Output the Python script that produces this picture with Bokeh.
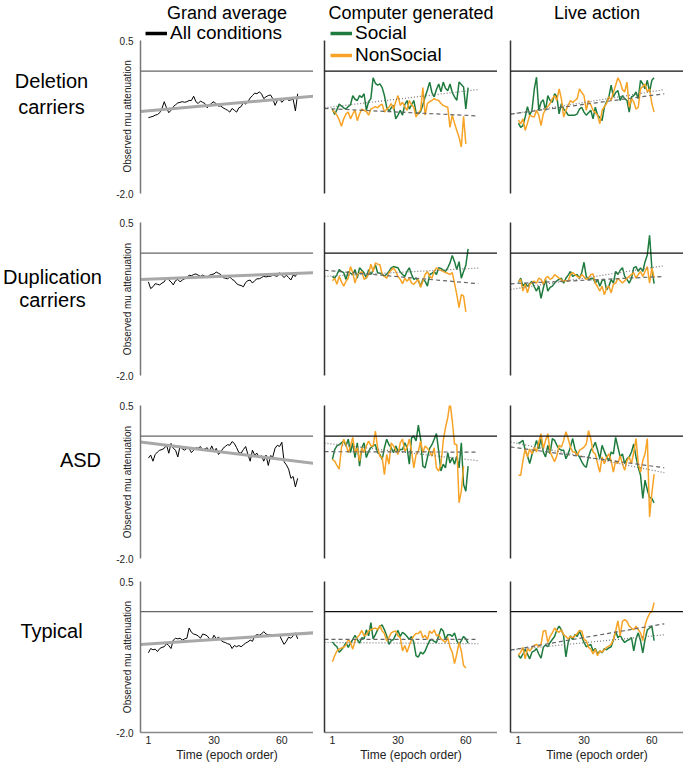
import numpy as np
from bokeh.plotting import figure
from bokeh.layouts import column, row
from bokeh.models import Range1d, Span, Label, Legend, LegendItem, FixedTicker, PrintfTickFormatter
from bokeh.core.properties import value
from bokeh.embed import file_html
from bokeh.resources import INLINE

# ---------------- data ----------------
COLUMN_TITLES = ["Grand average", "Computer generated", "Live action"]
ROW_LABELS = [["Deletion", "carriers"], ["Duplication", "carriers"], ["ASD"], ["Typical"]]
Y_LABEL = "Observed mu attenuation"
X_LABEL = "Time (epoch order)"
Y_TICKS = [-2.0, 0.5]
X_TICKS = [1, 30, 60]
X_LIM = (-2.5, 74.0)
Y_LIM = (-2.0, 0.5)
FIT_END = 65.5

GRAND_DEL = [-0.76, -0.75, -0.74, -0.72, -0.71, -0.68, -0.61, -0.50, -0.60, -0.68,
             -0.64, -0.58, -0.55, -0.52, -0.51, -0.50, -0.51, -0.50, -0.48, -0.48,
             -0.41, -0.50, -0.53, -0.49, -0.51, -0.53, -0.60, -0.56, -0.52, -0.50,
             -0.54, -0.57, -0.57, -0.60, -0.62, -0.64, -0.67, -0.61, -0.64, -0.67,
             -0.60, -0.58, -0.51, -0.54, -0.50, -0.44, -0.40, -0.36, -0.37, -0.34,
             -0.37, -0.45, -0.42, -0.40, -0.39, -0.45, -0.56, -0.48, -0.45, -0.51,
             -0.47, -0.44, -0.48, -0.47, -0.46, -0.65, -0.37]
GRAND_DUP = [-0.47, -0.58, -0.55, -0.50, -0.51, -0.52, -0.49, -0.47, -0.40, -0.44,
             -0.47, -0.52, -0.45, -0.43, -0.47, -0.44, -0.42, -0.40, -0.36, -0.37,
             -0.35, -0.34, -0.36, -0.38, -0.36, -0.38, -0.40, -0.36, -0.35, -0.34,
             -0.31, -0.33, -0.35, -0.40, -0.41, -0.42, -0.39, -0.43, -0.45, -0.50,
             -0.52, -0.53, -0.55, -0.48, -0.45, -0.44, -0.49, -0.45, -0.42, -0.42,
             -0.40, -0.38, -0.39, -0.38, -0.38, -0.36, -0.37, -0.38, -0.32, -0.36,
             -0.40, -0.36, -0.40, -0.44, -0.36, -0.38, -0.31]
GRAND_ASD = [-0.36, -0.31, -0.41, -0.30, -0.26, -0.23, -0.22, -0.20, -0.14, -0.28,
             -0.12, -0.20, -0.23, -0.34, -0.16, -0.21, -0.23, -0.20, -0.20, -0.27,
             -0.23, -0.19, -0.20, -0.17, -0.23, -0.21, -0.19, -0.25, -0.16, -0.25,
             -0.20, -0.30, -0.26, -0.20, -0.17, -0.14, -0.15, -0.09, -0.12, -0.19,
             -0.27, -0.28, -0.22, -0.17, -0.30, -0.41, -0.23, -0.31, -0.28, -0.35,
             -0.32, -0.41, -0.31, -0.48, -0.32, -0.34, -0.20, -0.15, -0.17, -0.10,
             -0.42, -0.47, -0.54, -0.69, -0.66, -0.83, -0.69]
GRAND_TYP = [-0.68, -0.61, -0.63, -0.62, -0.66, -0.61, -0.59, -0.58, -0.53, -0.56,
             -0.61, -0.47, -0.44, -0.45, -0.44, -0.47, -0.45, -0.44, -0.27, -0.34,
             -0.37, -0.38, -0.40, -0.44, -0.37, -0.38, -0.40, -0.45, -0.47, -0.39,
             -0.45, -0.42, -0.47, -0.50, -0.51, -0.53, -0.54, -0.61, -0.56, -0.58,
             -0.56, -0.58, -0.55, -0.52, -0.50, -0.47, -0.49, -0.40, -0.38, -0.39,
             -0.37, -0.33, -0.37, -0.38, -0.38, -0.39, -0.39, -0.39, -0.39, -0.47,
             -0.54, -0.49, -0.42, -0.44, -0.40, -0.35, -0.45]

CG_SOC_DEL = [-0.62, -0.71, -0.63, -0.54, -0.57, -0.60, -0.62, -0.58, -0.55, -0.40,
              -0.46, -0.48, -0.40, -0.43, -0.37, -0.64, -0.50, -0.45, -0.11, -0.20,
              -0.23, -0.21, -0.27, -0.40, -0.59, -0.66, -0.60, -0.56, -0.78, -0.72,
              -0.64, -0.72, -0.55, -0.48, -0.62, -0.55, -0.48, -0.68, -0.70, -0.66,
              -0.55, -0.42, -0.31, -0.18, -0.35, -0.42, -0.30, -0.21, -0.34, -0.18,
              -0.28, -0.32, -0.21, -0.35, -0.42, -0.48, -0.18, -0.22, -0.26, -0.62, -0.27]
CG_NON_DEL = [-0.64, -0.67, -0.72, -0.80, -0.90, -0.78, -0.70, -0.67, -0.78, -0.70,
              -0.64, -0.81, -0.70, -0.62, -0.64, -0.66, -0.72, -0.62, -0.60, -0.58,
              -0.60, -0.56, -0.54, -0.67, -0.62, -0.59, -0.53, -0.62, -0.50, -0.40,
              -0.56, -0.51, -0.58, -0.64, -0.48, -0.55, -0.59, -0.75, -0.68, -0.64,
              -0.27, -0.72, -0.53, -0.50, -0.48, -0.45, -0.47, -0.48, -0.53, -0.56,
              -0.58, -0.59, -0.92, -0.72, -0.85, -0.97, -1.08, -1.24, -0.74, -1.19]
CG_SOC_DUP = [-0.38, -0.41, -0.35, -0.27, -0.30, -0.32, -0.43, -0.30, -0.33, -0.35,
              -0.27, -0.41, -0.24, -0.28, -0.32, -0.41, -0.27, -0.35, -0.28, -0.19,
              -0.32, -0.33, -0.34, -0.38, -0.34, -0.30, -0.24, -0.22, -0.23, -0.24,
              -0.31, -0.35, -0.38, -0.30, -0.24, -0.35, -0.43, -0.41, -0.45, -0.54,
              -0.43, -0.46, -0.54, -0.35, -0.33, -0.30, -0.35, -0.24, -0.25, -0.28,
              -0.30, -0.24, -0.16, -0.04, -0.14, -0.27, -0.14, -0.41, -0.30, -0.20, 0.07]
CG_NON_DUP = [-0.45, -0.41, -0.51, -0.38, -0.47, -0.54, -0.46, -0.41, -0.22, -0.32,
              -0.49, -0.35, -0.33, -0.30, -0.43, -0.40, -0.35, -0.18, -0.30, -0.16,
              -0.18, -0.19, -0.35, -0.38, -0.41, -0.32, -0.28, -0.24, -0.30, -0.38,
              -0.43, -0.50, -0.41, -0.46, -0.41, -0.49, -0.51, -0.47, -0.43, -0.56,
              -0.46, -0.35, -0.30, -0.38, -0.41, -0.30, -0.24, -0.27, -0.28, -0.30,
              -0.32, -0.33, -0.35, -0.32, -0.49, -0.68, -0.89, -0.68, -0.70, -0.96]
CG_SOC_ASD = [-0.38, -0.22, -0.16, -0.14, -0.11, -0.08, -0.16, -0.05, -0.27, -0.11,
              -0.35, -0.11, -0.49, -0.19, -0.11, -0.35, -0.25, -0.19, -0.16, -0.14,
              -0.27, -0.30, -0.38, -0.19, -0.05, -0.14, -0.19, -0.27, -0.16, -0.25,
              -0.22, -0.22, -0.11, -0.19, -0.46, -0.03, 0.00, -0.08, 0.18, -0.05,
              -0.49, -0.52, -0.35, -0.20, -0.14, -0.05, 0.04, -0.25, -0.57, -0.46,
              -0.52, -0.27, -0.44, -0.35, -0.46, -0.33, -0.52, -0.11, -0.79, -0.90, -0.49]
CG_NON_ASD = [-0.38, -0.41, -0.48, -0.54, -0.19, -0.05, -0.14, -0.27, -0.16, -0.02,
              -0.27, -0.19, -0.41, -0.19, -0.27, -0.16, -0.08, -0.16, -0.16, 0.08,
              -0.19, -0.33, -0.35, -0.63, -0.30, -0.46, -0.11, -0.16, -0.22, -0.30,
              -0.11, -0.05, -0.25, -0.19, -0.05, -0.25, -0.52, -0.30, -0.25, -0.08,
              -0.27, -0.16, -0.20, -0.25, -0.33, -0.19, -0.52, -0.57, -0.46, -0.08,
              0.14, 0.30, 0.56, 0.25, -0.13, -0.14, -1.09, -0.90, -0.49]
CG_SOC_TYP = [-0.50, -0.55, -0.58, -0.67, -0.63, -0.58, -0.51, -0.59, -0.52, -0.46,
              -0.39, -0.46, -0.52, -0.43, -0.45, -0.30, -0.40, -0.18, -0.45, -0.38,
              -0.30, -0.24, -0.22, -0.30, -0.40, -0.54, -0.48, -0.46, -0.38, -0.31,
              -0.41, -0.34, -0.37, -0.41, -0.46, -0.41, -0.51, -0.73, -0.75, -0.67,
              -0.70, -0.65, -0.56, -0.48, -0.46, -0.49, -0.51, -0.40, -0.28, -0.32,
              -0.46, -0.38, -0.38, -0.41, -0.35, -0.48, -0.54, -0.48, -0.41, -0.45, -0.52]
CG_NON_TYP = [-0.83, -0.73, -0.65, -0.62, -0.60, -0.59, -0.55, -0.46, -0.51, -0.62,
              -0.48, -0.43, -0.38, -0.31, -0.40, -0.38, -0.32, -0.30, -0.28, -0.27,
              -0.30, -0.23, -0.32, -0.36, -0.48, -0.43, -0.35, -0.33, -0.32, -0.40,
              -0.43, -0.65, -0.56, -0.67, -0.56, -0.46, -0.40, -0.36, -0.36, -0.32,
              -0.43, -0.39, -0.46, -0.32, -0.36, -0.30, -0.40, -0.38, -0.45, -0.48,
              -0.51, -0.43, -0.59, -0.67, -0.86, -0.70, -0.51, -0.65, -0.89, -0.93]

LA_SOC_DEL = [-0.85, -0.92, -0.89, -0.75, -0.58, -0.72, -0.64, -0.30, -0.10, -0.64,
              -0.51, -0.47, -0.64, -0.40, -0.48, -0.51, -0.37, -0.42, -0.70, -0.53,
              -0.62, -0.66, -0.72, -0.72, -0.72, -0.72, -0.70, -0.62, -0.59, -0.67,
              -0.72, -0.68, -0.64, -0.78, -0.59, -0.72, -0.76, -0.81, -0.59, -0.50,
              -0.42, -0.23, -0.42, -0.35, -0.32, -0.48, -0.40, -0.45, -0.48, -0.67,
              -0.42, -0.40, -0.34, -0.45, -0.15, -0.21, -0.29, -0.15, -0.34, -0.15, -0.11]
LA_NON_DEL = [-0.80, -0.86, -0.78, -0.97, -0.85, -0.72, -0.74, -0.75, -0.64, -0.72,
              -0.89, -0.70, -0.62, -0.58, -0.53, -0.45, -0.40, -0.48, -0.29, -0.45,
              -0.75, -0.64, -0.56, -0.48, -0.51, -0.48, -0.45, -0.29, -0.35, -0.40,
              -0.64, -0.48, -0.55, -0.64, -0.68, -0.72, -0.86, -0.64, -0.58, -0.53,
              -0.42, -0.48, -0.35, -0.23, -0.11, -0.18, -0.30, -0.34, -0.18, -0.59,
              -0.45, -0.50, -0.62, -0.59, -0.29, -0.25, -0.21, -0.34, -0.29, -0.53, -0.67]
LA_SOC_DUP = [-0.48, -0.41, -0.54, -0.49, -0.54, -0.50, -0.46, -0.55, -0.62, -0.54,
              -0.74, -0.57, -0.43, -0.62, -0.56, -0.54, -0.49, -0.45, -0.43, -0.41,
              -0.49, -0.41, -0.36, -0.30, -0.38, -0.36, -0.35, -0.41, -0.32, -0.15,
              -0.38, -0.43, -0.42, -0.41, -0.49, -0.43, -0.54, -0.45, -0.43, -0.60,
              -0.54, -0.43, -0.49, -0.30, -0.35, -0.28, -0.24, -0.38, -0.43, -0.49,
              -0.41, -0.24, -0.22, -0.30, -0.24, -0.30, -0.14, -0.03, 0.29, -0.24, -0.50]
LA_NON_DUP = [-0.47, -0.43, -0.62, -0.51, -0.65, -0.51, -0.48, -0.46, -0.49, -0.41,
              -0.43, -0.51, -0.41, -0.38, -0.43, -0.41, -0.35, -0.38, -0.41, -0.44,
              -0.46, -0.45, -0.46, -0.35, -0.32, -0.35, -0.38, -0.41, -0.35, -0.39,
              -0.43, -0.41, -0.35, -0.34, -0.49, -0.55, -0.62, -0.54, -0.68, -0.57,
              -0.54, -0.65, -0.51, -0.49, -0.41, -0.45, -0.49, -0.45, -0.41, -0.38,
              -0.35, -0.32, -0.41, -0.35, -0.30, -0.38, -0.30, -0.22, -0.49, -0.24, -0.41]
LA_SOC_ASD = [-0.12, -0.10, -0.07, -0.23, -0.32, -0.45, -0.30, -0.20, -0.07, -0.21,
              -0.04, -0.26, -0.34, -0.15, -0.29, -0.04, -0.07, -0.15, -0.21, -0.23,
              -0.23, -0.37, -0.29, -0.18, -0.04, -0.21, -0.29, -0.34, -0.42, -0.48,
              -0.51, -0.34, -0.23, -0.18, -0.10, -0.23, -0.37, -0.15, -0.25, -0.34,
              -0.40, -0.26, -0.29, -0.02, -0.18, -0.34, -0.29, -0.45, -0.37, -0.34,
              -0.26, -0.13, -0.34, -0.51, -0.64, -1.02, -0.72, -0.88, -1.00, -1.02, -1.09]
LA_NON_ASD = [-0.64, -0.64, -0.40, -0.21, -0.34, -0.21, -0.29, -0.18, -0.26, -0.10,
              0.04, -0.21, -0.07, 0.04, -0.26, -0.34, -0.42, -0.32, -0.15, -0.18,
              -0.07, 0.07, -0.04, -0.18, -0.26, -0.26, -0.32, -0.23, -0.21, -0.18,
              -0.13, 0.09, -0.04, -0.26, -0.29, -0.45, -0.59, -0.34, -0.45, -0.35,
              -0.29, -0.40, -0.59, -0.40, -0.45, -0.32, -0.45, -0.56, -0.40, -0.34,
              -0.45, -0.26, -0.04, -0.45, -0.59, -0.40, -0.29, -0.04, -1.32, -0.94, -0.62]
LA_SOC_TYP = [-0.72, -0.77, -0.70, -0.62, -0.70, -0.78, -0.67, -0.65, -0.61, -0.70,
              -0.77, -0.59, -0.55, -0.58, -0.51, -0.46, -0.41, -0.30, -0.24, -0.30,
              -0.40, -0.75, -0.51, -0.40, -0.46, -0.38, -0.41, -0.32, -0.41, -0.51,
              -0.58, -0.56, -0.54, -0.65, -0.61, -0.70, -0.65, -0.68, -0.61, -0.63,
              -0.60, -0.58, -0.47, -0.32, -0.43, -0.39, -0.46, -0.51, -0.48, -0.46,
              -0.43, -0.65, -0.45, -0.35, -0.48, -0.68, -0.46, -0.30, -0.27, -0.24, -0.48]
LA_NON_TYP = [-0.72, -0.67, -0.59, -0.78, -0.61, -0.65, -0.60, -0.56, -0.54, -0.58,
              -0.54, -0.32, -0.31, -0.51, -0.41, -0.35, -0.27, -0.32, -0.34, -0.30,
              -0.38, -0.41, -0.45, -0.41, -0.43, -0.40, -0.36, -0.31, -0.32, -0.46,
              -0.48, -0.59, -0.62, -0.70, -0.62, -0.73, -0.65, -0.67, -0.63, -0.59,
              -0.57, -0.54, -0.46, -0.32, -0.15, -0.40, -0.16, -0.13, -0.16, -0.24,
              -0.27, -0.30, -0.24, -0.30, -0.35, -0.48, -0.22, -0.11, -0.03, 0.00, 0.15]

# linear fits per group (rows: Deletion, Duplication, ASD, Typical): value = intercept + slope * epoch
GRAND_FIT_INTERCEPT = [-0.653, -0.427, -0.108, -0.535]
GRAND_FIT_SLOPE = [0.0033, 0.00145, -0.00457, 0.0025]
CG_SOC_FIT_INTERCEPT = [-0.589, -0.375, -0.125, -0.510]
CG_SOC_FIT_SLOPE = [0.0044, 0.00198, -0.00424, -0.0003]
CG_NON_FIT_INTERCEPT = [-0.615, -0.288, -0.255, -0.457]
CG_NON_FIT_SLOPE = [-0.0018, -0.00323, -0.0001, 0.0]
LA_SOC_FIT_INTERCEPT = [-0.689, -0.580, -0.115, -0.625]
LA_SOC_FIT_SLOPE = [0.0059, 0.0057, -0.00735, 0.0037]
LA_NON_FIT_INTERCEPT = [-0.691, -0.497, -0.190, -0.620]
LA_NON_FIT_SLOPE = [0.0049, 0.00176, -0.0050, 0.0064]

GRAND = [GRAND_DEL, GRAND_DUP, GRAND_ASD, GRAND_TYP]
SOCIAL = [[CG_SOC_DEL, CG_SOC_DUP, CG_SOC_ASD, CG_SOC_TYP],
          [LA_SOC_DEL, LA_SOC_DUP, LA_SOC_ASD, LA_SOC_TYP]]
NONSOCIAL = [[CG_NON_DEL, CG_NON_DUP, CG_NON_ASD, CG_NON_TYP],
             [LA_NON_DEL, LA_NON_DUP, LA_NON_ASD, LA_NON_TYP]]
SOC_FIT = [(CG_SOC_FIT_INTERCEPT, CG_SOC_FIT_SLOPE), (LA_SOC_FIT_INTERCEPT, LA_SOC_FIT_SLOPE)]
NON_FIT = [(CG_NON_FIT_INTERCEPT, CG_NON_FIT_SLOPE), (LA_NON_FIT_INTERCEPT, LA_NON_FIT_SLOPE)]

# ---------------- style / layout ----------------
FONT = "Liberation Sans"
GREEN = "#1e7b3e"
ORANGE = "#f7a325"
LABEL_COL_W = 114
FRAME_W = 173
FRAME_H = 153
LEFT_BORDER = [26, 11, 13]
HEADER_H = 40                      # space above first row of panels (titles, legends)
TOP_BORDER = [0, 22, 23, 16]
BOTTOM_BORDER = [7, 7, 7, 30]
PX_Y = FRAME_H / (Y_LIM[1] - Y_LIM[0])
Y_TOP_ROW0 = Y_LIM[1] + HEADER_H / PX_Y
# the first-row frame also holds the header strip; pad the rotated axis label so that it
# stays centred on the data part of the axis (non-breaking spaces keep their width)
Y_LABEL_ROW0 = Y_LABEL + "\u00a0" * 14

# row label text centres, in pixels within each row's label strip
ROW_LABEL_X = [51, 52, 80, 51]
ROW_LABEL_Y = [[83, 110], [65, 92], [65], [65]]


def row_height(r):
    h = TOP_BORDER[r] + FRAME_H + BOTTOM_BORDER[r]
    return h + (HEADER_H if r == 0 else 0)


def make_label_strip(r):
    h = row_height(r)
    p = figure(width=LABEL_COL_W, height=h, x_range=Range1d(0, LABEL_COL_W), y_range=Range1d(h, 0),
               x_axis_location=None, y_axis_location=None, toolbar_location=None, tools="",
               output_backend="svg", min_border=0)
    p.outline_line_color = None
    p.grid.visible = False
    lines = ROW_LABELS[r]
    p.text(x=[ROW_LABEL_X[r]] * len(lines), y=ROW_LABEL_Y[r], text=lines,
           text_align="center", text_baseline="middle", text_color="black",
           text_font=value(FONT), text_font_size=value("20px"))
    return p


def make_fig(r, c):
    y_top = Y_TOP_ROW0 if r == 0 else Y_LIM[1]
    p = figure(width=LEFT_BORDER[c] + FRAME_W, height=row_height(r),
               x_range=Range1d(*X_LIM), y_range=Range1d(Y_LIM[0], y_top),
               x_axis_location="below" if r == 3 else None,
               y_axis_location="left",
               toolbar_location=None, tools="", output_backend="svg",
               min_border_left=LEFT_BORDER[c], min_border_right=0,
               min_border_top=TOP_BORDER[r], min_border_bottom=BOTTOM_BORDER[r])
    p.outline_line_color = None
    p.grid.visible = False

    ya = p.yaxis[0]
    ya.bounds = Y_LIM
    ya.ticker = FixedTicker(ticks=Y_TICKS if c == 0 else [])
    ya.formatter = PrintfTickFormatter(format="%.1f")
    ya.major_tick_line_color = None
    ya.minor_tick_line_color = None
    ya.major_tick_out = 0
    ya.major_tick_in = 0
    ya.minor_tick_out = 0
    ya.major_label_text_font = FONT
    ya.major_label_text_font_size = "10px"
    ya.major_label_text_color = "#222222"
    ya.major_label_standoff = 7
    ya.axis_line_color = "#777777" if c == 0 else "#333333"
    ya.axis_line_width = 1.5
    if c == 0:
        ya.axis_label = Y_LABEL_ROW0 if r == 0 else Y_LABEL
        ya.axis_label_text_font = FONT
        ya.axis_label_text_font_size = "10px"
        ya.axis_label_text_font_style = "normal"
        ya.axis_label_text_color = "#222222"
        ya.axis_label_standoff = -20

    if r == 3:
        xa = p.xaxis[0]
        xa.ticker = FixedTicker(ticks=X_TICKS)
        xa.major_tick_line_color = None
        xa.minor_tick_line_color = None
        xa.major_tick_out = 0
        xa.major_tick_in = 0
        xa.minor_tick_out = 0
        xa.major_label_text_font = FONT
        xa.major_label_text_font_size = "10.5px"
        xa.major_label_text_color = "#222222"
        xa.major_label_standoff = 3
        xa.axis_label = X_LABEL
        xa.axis_label_text_font = FONT
        xa.axis_label_text_font_size = "12px"
        xa.axis_label_text_font_style = "normal"
        xa.axis_label_text_color = "#222222"
        xa.axis_label_standoff = 1
        xa.axis_line_color = "#888888"
        xa.axis_line_width = 1.5

    p.add_layout(Span(location=0, dimension="width",
                      line_color="#666666" if c == 0 else "#111111", line_width=1.2))
    return p


rows = []
for r in range(4):
    figs = [make_label_strip(r)]
    for c in range(3):
        p = make_fig(r, c)
        if c == 0:
            vals = GRAND[r]
            p.line(x=list(range(1, len(vals) + 1)), y=vals, line_color="black", line_width=1.0)
            fx = np.array([X_LIM[0], X_LIM[1]])
            p.line(x=fx, y=GRAND_FIT_INTERCEPT[r] + GRAND_FIT_SLOPE[r] * fx,
                   line_color="#a8a8a8", line_width=3)
        else:
            k = c - 1
            soc = SOCIAL[k][r]
            non = NONSOCIAL[k][r]
            p.line(x=list(range(1, len(soc) + 1)), y=soc, line_color=GREEN, line_width=1.5)
            p.line(x=list(range(1, len(non) + 1)), y=non, line_color=ORANGE, line_width=1.5)
            fx = np.array([X_LIM[0], FIT_END])
            si, ss = SOC_FIT[k]
            ni, ns = NON_FIT[k]
            p.line(x=fx, y=si[r] + ss[r] * fx, line_color="#777777", line_width=1.2, line_dash="1 2")
            p.line(x=fx, y=ni[r] + ns[r] * fx, line_color="#666666", line_width=1.2, line_dash="4 3")

        if r == 0:
            # column title, drawn in the header strip of the first-row panel
            p.add_layout(Label(x=(X_LIM[0] + X_LIM[1]) / 2, y=Y_LIM[1] + (HEADER_H - 12) / PX_Y,
                               text=COLUMN_TITLES[c], text_align="center", text_baseline="middle",
                               text_font=FONT, text_font_size="18px", text_color="black"))
            nan2 = [np.nan, np.nan]
            items = None
            if c == 0:
                lr = p.line(x=nan2, y=nan2, line_color="black", line_width=3.5)
                items = [LegendItem(label="All conditions", renderers=[lr])]
                loc = (5, FRAME_H + HEADER_H - 44)
            elif c == 1:
                lg = p.line(x=nan2, y=nan2, line_color=GREEN, line_width=3.5)
                lo = p.line(x=nan2, y=nan2, line_color=ORANGE, line_width=3.5)
                items = [LegendItem(label="Social", renderers=[lg]),
                         LegendItem(label="NonSocial", renderers=[lo])]
                loc = (6, FRAME_H + HEADER_H - 66)
            if items:
                leg = Legend(items=items, location=loc, orientation="vertical",
                             label_text_font=FONT, label_text_font_size="19px",
                             label_text_color="black",
                             glyph_width=22, glyph_height=20, label_height=20,
                             label_standoff=3, spacing=0, padding=0, margin=0,
                             border_line_color=None, background_fill_alpha=0)
                p.add_layout(leg)
        figs.append(p)
    rows.append(row(*figs))

layout = column(*rows)
open("out.html", "w").write(file_html(layout, INLINE, title="Mu attenuation over time"))
